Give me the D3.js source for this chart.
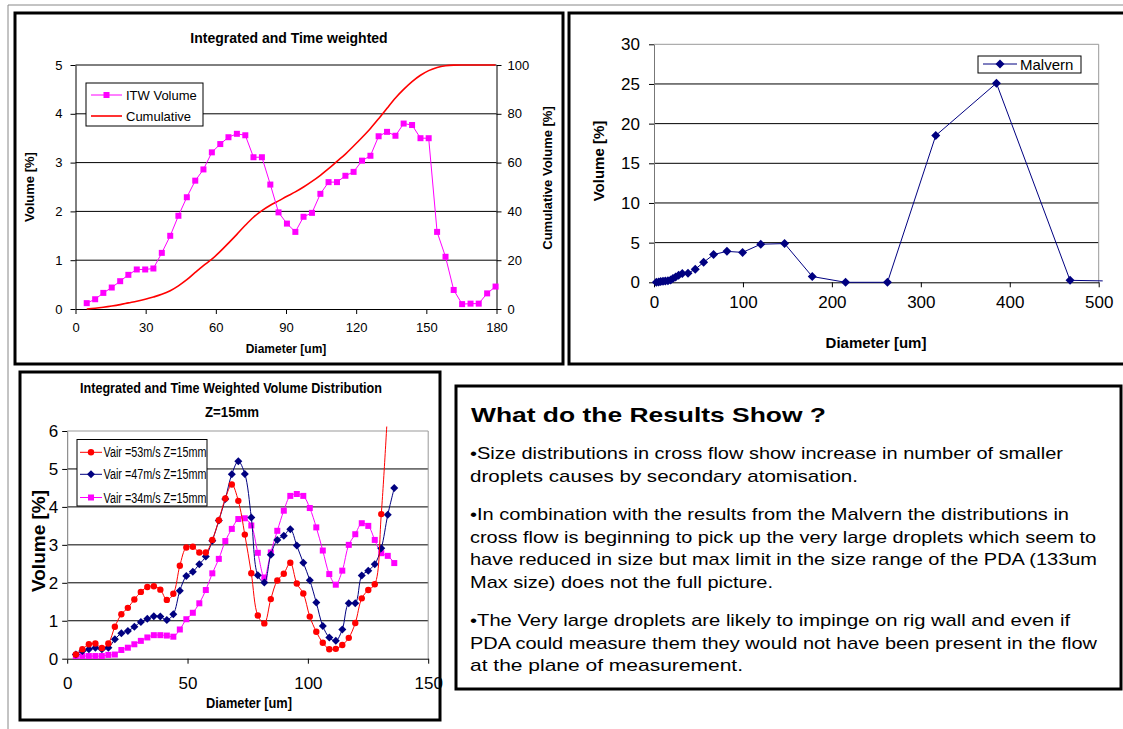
<!DOCTYPE html>
<html>
<head>
<meta charset="utf-8">
<script src="https://cdn.jsdelivr.net/npm/d3@7"></script>
<style>
  html, body { margin: 0; padding: 0; background: #fff; }
  svg { display: block; font-family: "Liberation Sans", Arial, sans-serif; }
</style>
</head>
<body>
<svg id="slide" width="1123" height="729"></svg>
<script>
// ---- Integrated and time weighted PDA distribution ----
const itwDiameter = [4.8, 8.4, 11.9, 15.5, 19.1, 22.6, 26.2, 29.8, 33.3, 36.9,
  40.5, 44.0, 47.6, 51.2, 54.7, 58.3, 61.9, 65.4, 69.0, 72.6,
  76.1, 79.7, 83.3, 86.8, 90.4, 94.0, 97.5, 101.1, 104.7, 108.2,
  111.8, 115.4, 118.9, 122.5, 126.1, 129.6, 133.2, 136.8, 140.3, 143.9,
  147.5, 151.0, 154.6, 158.2, 161.7, 165.3, 168.9, 172.4, 176.0, 179.6];
const itwVolume = [0.12, 0.20, 0.33, 0.44, 0.57, 0.70, 0.81, 0.81, 0.83, 1.15,
  1.50, 1.91, 2.29, 2.63, 2.86, 3.21, 3.38, 3.52, 3.59, 3.56,
  3.11, 3.11, 2.55, 1.98, 1.75, 1.58, 1.89, 1.97, 2.36, 2.60,
  2.60, 2.73, 2.81, 3.04, 3.14, 3.54, 3.63, 3.55, 3.80, 3.77,
  3.50, 3.50, 1.58, 1.07, 0.39, 0.10, 0.11, 0.11, 0.32, 0.46];
const cumulativeVolume = [0, 0.3, 0.7, 1.2, 1.8, 2.5, 3.2, 4.0, 4.9, 6.0,
  7.5, 9.5, 12.0, 15.0, 17.8, 20.4, 23.6, 27.0, 30.6, 34.3,
  37.6, 40.3, 42.5, 44.3, 46.2, 48.0, 50.0, 52.3, 54.8, 57.5,
  60.5, 63.5, 66.8, 70.3, 74.0, 78.0, 82.3, 86.5, 90.0, 93.2,
  95.8, 97.7, 99.0, 99.7, 99.95, 100, 100, 100, 100, 100];
const itwXTicks = [0, 30, 60, 90, 120, 150, 180];
const itwYTicks = [0, 1, 2, 3, 4, 5];
const cumTicks = [0, 20, 40, 60, 80, 100];

// ---- Malvern distribution ----
const malvernSize = [2.6, 5.2, 7.5, 10.1, 12.7, 15.7, 18.7, 21.3, 24.3, 27.7,
  31.8, 38.2, 46.4, 55.8, 67.0, 82.0, 99.6, 120.0, 146.8, 177.9,
  215.4, 262.5, 316.8, 385.0, 467.8, 568.0];
const malvernVolume = [0, 0.04, 0.09, 0.13, 0.17, 0.21, 0.30, 0.47, 0.68, 0.90,
  1.12, 1.15, 1.65, 2.52, 3.50, 3.90, 3.77, 4.80, 4.88, 0.73,
  0.0, 0.0, 18.5, 25.1, 0.25, 0.05];
const malvernXTicks = [0, 100, 200, 300, 400, 500];
const malvernYTicks = [0, 5, 10, 15, 20, 25, 30];

// ---- Cross flow, Z = 15 mm ----
const crossDiameter = [3.6, 6.3, 9.0, 11.7, 14.4, 17.1, 19.8, 22.5, 25.2, 27.9,
  30.6, 33.3, 36.0, 38.7, 41.4, 44.1, 46.8, 49.5, 52.2, 54.9,
  57.6, 60.3, 63.0, 65.7, 68.4, 71.1, 73.8, 76.5, 79.2, 81.9,
  84.6, 87.3, 90.0, 92.7, 95.4, 98.1, 100.8, 103.5, 106.2, 108.9,
  111.6, 114.3, 117.0, 119.7, 122.4, 125.1, 127.8, 130.5, 133.2, 135.9];
const vair53 = [0.11, 0.25, 0.38, 0.40, 0.28, 0.40, 0.84, 1.17, 1.34, 1.56,
  1.76, 1.89, 1.91, 1.82, 1.55, 1.71, 2.45, 2.93, 2.95, 2.80,
  2.80, 3.13, 3.65, 4.22, 4.59, 4.16, 3.27, 2.25, 1.14, 0.93,
  1.57, 2.06, 2.24, 2.53, 1.98, 1.72, 1.11, 0.71, 0.42, 0.25,
  0.26, 0.36, 0.55, 0.94, 1.59, 1.81, 1.96, 3.81, 6.6, null];
const vair47 = [0.11, 0.20, 0.25, 0.29, 0.25, 0.29, 0.51, 0.67, 0.73, 0.84,
  0.97, 1.05, 1.12, 1.11, 1.02, 1.17, 1.79, 2.18, 2.29, 2.49,
  2.69, 3.11, 3.64, 4.21, 4.86, 5.20, 4.87, 3.72, 2.20, 2.01,
  2.74, 3.13, 3.24, 3.41, 2.98, 2.53, 2.07, 1.48, 0.86, 0.56,
  0.47, 0.77, 1.46, 1.46, 2.19, 2.32, 2.49, 2.91, 3.79, 4.50];
const vair34 = [0.07, 0.07, 0.07, 0.07, 0.07, 0.10, 0.11, 0.23, 0.29, 0.38,
  0.47, 0.56, 0.62, 0.62, 0.61, 0.58, 0.77, 1.04, 1.21, 1.46,
  1.81, 2.25, 2.63, 3.10, 3.42, 3.68, 3.70, 3.51, 2.79, 2.14,
  2.80, 3.37, 3.90, 4.29, 4.34, 4.29, 3.97, 3.46, 2.85, 2.23,
  1.95, 2.32, 3.00, 3.28, 3.57, 3.50, 3.13, 2.78, 2.71, 2.52];
const crossNames = ["Vair =53m/s Z=15mm", "Vair =47m/s Z=15mm", "Vair =34m/s Z=15mm"];
const crossXTicks = [0, 50, 100, 150];
const crossYTicks = [0, 1, 2, 3, 4, 5, 6];

// ---- Notes ----
const notesTitle = "What do the Results Show ?";
const notesLines = [
  "\u2022Size distributions in cross flow show increase in number of smaller",
  "droplets causes by secondary atomisation.",
  "\u2022In combination with the results from the Malvern the distributions in",
  "cross flow is beginning to pick up the very large droplets which seem to",
  "have reduced in size but max limit in the size range of the PDA (133um",
  "Max size) does not the full picture.",
  "\u2022The Very large droplets are likely to impinge on rig wall  and even if",
  "PDA could measure them they would not have been present in the flow",
  "at the plane of measurement."
];

const MAGENTA = "#ff00ff", RED = "#ff0000", NAVY = "#000080";
const intFmt = d3.format("d");
const svg = d3.select("#slide");
svg.append("rect").attr("width", 1123).attr("height", 729).attr("fill", "#fff");

// slide edge lines
svg.append("line").attr("x1", 8).attr("x2", 1123).attr("y1", 5).attr("y2", 5)
  .attr("stroke", "#888").attr("stroke-width", 1);
svg.append("line").attr("x1", 8).attr("x2", 8).attr("y1", 5).attr("y2", 729)
  .attr("stroke", "#888").attr("stroke-width", 1);

function frame(x, y, w, h) {
  svg.append("rect").attr("x", x).attr("y", y).attr("width", w).attr("height", h)
    .attr("fill", "#fff").attr("stroke", "#000").attr("stroke-width", 3);
}
function styleAxis(g, size) {
  g.selectAll("text").attr("font-size", size).attr("fill", "#000")
    .attr("font-family", "Liberation Sans, Arial, sans-serif");
  g.selectAll("line").attr("stroke", "#000");
  g.select(".domain").attr("stroke", "#000");
}
function square(g, pts, size, color) {
  g.selectAll(null).data(pts).join("rect")
    .attr("x", d => d[0] - size / 2).attr("y", d => d[1] - size / 2)
    .attr("width", size).attr("height", size).attr("fill", color);
}
function diamond(g, pts, r, color) {
  g.selectAll(null).data(pts).join("path")
    .attr("d", d => `M${d[0]},${d[1] - r}L${d[0] + r},${d[1]}L${d[0]},${d[1] + r}L${d[0] - r},${d[1]}Z`)
    .attr("fill", color);
}
function dots(g, pts, r, color) {
  g.selectAll(null).data(pts).join("circle")
    .attr("cx", d => d[0]).attr("cy", d => d[1]).attr("r", r).attr("fill", color);
}
function vtext(x, y, txt, size, len) {
  const t = svg.append("text").attr("transform", `translate(${x},${y}) rotate(-90)`)
    .attr("text-anchor", "middle").attr("font-weight", "bold").attr("font-size", size).text(txt);
  if (len) t.attr("textLength", len).attr("lengthAdjust", "spacingAndGlyphs");
  return t;
}
function htext(x, y, txt, size, opts = {}) {
  const t = svg.append("text").attr("x", x).attr("y", y)
    .attr("text-anchor", opts.anchor || "middle").attr("font-size", size)
    .attr("font-weight", opts.bold ? "bold" : "normal").text(txt);
  if (opts.len) t.attr("textLength", opts.len).attr("lengthAdjust", "spacingAndGlyphs");
  return t;
}

// ================= Chart 1 =================
frame(15, 13, 548, 351);
{
  const x = d3.scaleLinear().domain([0, 180]).range([75.5, 496.5]);
  const y = d3.scaleLinear().domain([0, 5]).range([309, 65]);
  const yr = d3.scaleLinear().domain([0, 100]).range([309, 65]);
  const g = svg.append("g");
  g.selectAll(null).data(itwYTicks.slice(1)).join("line")
    .attr("x1", x(0)).attr("x2", x(180)).attr("y1", d => y(d)).attr("y2", d => y(d))
    .attr("stroke", "#000").attr("stroke-width", 1);
  const ax = g.append("g").attr("transform", `translate(0,${y(0)})`)
    .call(d3.axisBottom(x).tickValues(itwXTicks).tickFormat(intFmt).tickSize(5).tickPadding(9).tickSizeOuter(0));
  styleAxis(ax, 13);
  const ay = g.append("g").attr("transform", `translate(${x(0)},0)`)
    .call(d3.axisLeft(y).tickValues(itwYTicks).tickFormat(intFmt).tickSize(5).tickPadding(8).tickSizeOuter(0));
  styleAxis(ay, 13);
  const ar = g.append("g").attr("transform", `translate(${x(180)},0)`)
    .call(d3.axisRight(yr).tickValues(cumTicks).tickFormat(intFmt).tickSize(5).tickPadding(6).tickSizeOuter(0));
  styleAxis(ar, 13);

  const cum = itwDiameter.map((d, i) => [x(d), yr(cumulativeVolume[i])]);
  g.append("path").attr("d", d3.line().curve(d3.curveMonotoneX)(cum))
    .attr("fill", "none").attr("stroke", RED).attr("stroke-width", 1.6);
  const itw = itwDiameter.map((d, i) => [x(d), y(itwVolume[i])]);
  g.append("path").attr("d", d3.line()(itw))
    .attr("fill", "none").attr("stroke", MAGENTA).attr("stroke-width", 1);
  square(g, itw, 6, MAGENTA);

  htext(289, 43, "Integrated and Time weighted", 14, { bold: true });
  htext(286, 353, "Diameter [um]", 12, { bold: true });
  vtext(34, 187, "Volume [%]", 13);
  vtext(552, 178, "Cumulative Volume [%]", 13);

  // legend
  const lg = svg.append("g");
  lg.append("rect").attr("x", 86).attr("y", 83).attr("width", 117).attr("height", 43)
    .attr("fill", "#fff").attr("stroke", "#000").attr("stroke-width", 1);
  lg.append("line").attr("x1", 91).attr("x2", 122).attr("y1", 95).attr("y2", 95)
    .attr("stroke", MAGENTA).attr("stroke-width", 1);
  square(lg, [[106.5, 95]], 6, MAGENTA);
  lg.append("text").attr("x", 126).attr("y", 99.5).attr("font-size", 13).text("ITW Volume");
  lg.append("line").attr("x1", 91).attr("x2", 122).attr("y1", 116).attr("y2", 116)
    .attr("stroke", RED).attr("stroke-width", 1.6);
  lg.append("text").attr("x", 126).attr("y", 120.5).attr("font-size", 13).text("Cumulative");
}

// ================= Chart 2 =================
frame(569, 13, 560, 351);
{
  const x = d3.scaleLinear().domain([0, 500]).range([654, 1098.7]);
  const y = d3.scaleLinear().domain([0, 30]).range([282.3, 44.3]);
  const g = svg.append("g");
  g.selectAll(null).data(malvernYTicks.slice(1, -1)).join("line")
    .attr("x1", x(0)).attr("x2", x(500)).attr("y1", d => y(d)).attr("y2", d => y(d))
    .attr("stroke", "#000").attr("stroke-width", 1);
  // plot area border (top and right)
  g.append("path").attr("d", `M${x(0)},${y(30)}H${x(500)}V${y(0)}`)
    .attr("fill", "none").attr("stroke", "#999").attr("stroke-width", 1);
  const ax = g.append("g").attr("transform", `translate(0,${y(0)})`)
    .call(d3.axisBottom(x).tickValues(malvernXTicks).tickFormat(intFmt).tickSize(5).tickPadding(9).tickSizeOuter(0));
  styleAxis(ax, 17);
  const ay = g.append("g").attr("transform", `translate(${x(0)},0)`)
    .call(d3.axisLeft(y).tickValues(malvernYTicks).tickFormat(intFmt).tickSize(5).tickPadding(9).tickSizeOuter(0));
  styleAxis(ay, 17);
  ay.select(".domain").attr("stroke", "#777");

  const clipId = "clipMalvern";
  svg.append("clipPath").attr("id", clipId).append("rect")
    .attr("x", x(0) - 6).attr("y", y(30) - 6).attr("width", x(500) - x(0) + 10).attr("height", y(0) - y(30) + 12);
  const s = g.append("g").attr("clip-path", `url(#${clipId})`);
  const pts = malvernSize.map((d, i) => [x(d), y(malvernVolume[i])]);
  s.append("path").attr("d", d3.line()(pts)).attr("fill", "none").attr("stroke", NAVY).attr("stroke-width", 1);
  diamond(s, pts.filter(p => p[0] <= x(500)), 4.5, NAVY);

  vtext(604, 161, "Volume [%]", 15);
  htext(876, 348, "Diameter [um]", 15, { bold: true });

  const lg = svg.append("g");
  lg.append("rect").attr("x", 978).attr("y", 56).attr("width", 103).attr("height", 17)
    .attr("fill", "#fff").attr("stroke", "#000").attr("stroke-width", 1);
  lg.append("line").attr("x1", 983).attr("x2", 1017).attr("y1", 64).attr("y2", 64)
    .attr("stroke", NAVY).attr("stroke-width", 1);
  diamond(lg, [[1000, 64]], 4.5, NAVY);
  lg.append("text").attr("x", 1020).attr("y", 69.5).attr("font-size", 15).text("Malvern");
}

// ================= Chart 3 =================
frame(20, 372, 420, 348);
{
  const x = d3.scaleLinear().domain([0, 150]).range([67.2, 428.2]);
  const y = d3.scaleLinear().domain([0, 6]).range([658.7, 431]);
  const g = svg.append("g");
  g.selectAll(null).data(crossYTicks.slice(1, -1)).join("line")
    .attr("x1", x(0)).attr("x2", x(150)).attr("y1", d => y(d)).attr("y2", d => y(d))
    .attr("stroke", "#000").attr("stroke-width", 1);
  g.append("path").attr("d", `M${x(0)},${y(6)}H${x(150)}V${y(0)}`)
    .attr("fill", "none").attr("stroke", "#999").attr("stroke-width", 1);
  const ax = g.append("g").attr("transform", `translate(0,${y(0)})`)
    .call(d3.axisBottom(x).tickValues(crossXTicks).tickFormat(intFmt).tickSize(5).tickPadding(13).tickSizeOuter(0));
  styleAxis(ax, 17);
  const ay = g.append("g").attr("transform", `translate(${x(0)},0)`)
    .call(d3.axisLeft(y).tickValues(crossYTicks).tickFormat(intFmt).tickSize(5).tickPadding(4).tickSizeOuter(0));
  styleAxis(ay, 17);
  ay.select(".domain").attr("stroke", "#777");

  svg.append("clipPath").attr("id", "clipCross").append("rect")
    .attr("x", x(0) - 6).attr("y", y(6) - 4.5).attr("width", x(150) - x(0) + 6).attr("height", y(0) - y(6) + 12);
  const s = g.append("g").attr("clip-path", "url(#clipCross)");
  const line = d3.line().defined(d => d[1] != null).curve(d3.curveCatmullRom.alpha(0.5))
    .x(d => x(d[0])).y(d => y(d[1]));
  const series = [
    { vals: vair34, color: MAGENTA, mark: "square" },
    { vals: vair47, color: NAVY, mark: "diamond" },
    { vals: vair53, color: RED, mark: "dot" }
  ];
  series.forEach(sr => {
    const data = crossDiameter.map((d, i) => [d, sr.vals[i]]);
    s.append("path").attr("d", line(data)).attr("fill", "none")
      .attr("stroke", sr.color).attr("stroke-width", 1);
    const pts = data.filter(d => d[1] != null && d[1] <= 6).map(d => [x(d[0]), y(d[1])]);
    if (sr.mark === "square") square(s, pts, 6, sr.color);
    else if (sr.mark === "diamond") diamond(s, pts, 4, sr.color);
    else dots(s, pts, 3.2, sr.color);
  });

  htext(80, 393, "Integrated and Time Weighted Volume Distribution", 14, { bold: true, anchor: "start", len: 302 });
  htext(232, 417, "Z=15mm", 14, { bold: true, len: 54 });
  htext(249, 708, "Diameter [um]", 15, { bold: true, len: 86 });
  vtext(45, 541, "Volume [%]", 19);

  const lg = svg.append("g");
  lg.append("rect").attr("x", 77).attr("y", 439.5).attr("width", 130).attr("height", 66.5)
    .attr("fill", "#fff").attr("stroke", "#000").attr("stroke-width", 1);
  const rows = [
    { y: 452.3, color: RED, mark: "dot" },
    { y: 474.3, color: NAVY, mark: "diamond" },
    { y: 497.5, color: MAGENTA, mark: "square" }
  ];
  rows.forEach((r, i) => {
    lg.append("line").attr("x1", 80).attr("x2", 102).attr("y1", r.y).attr("y2", r.y)
      .attr("stroke", r.color).attr("stroke-width", 1);
    if (r.mark === "dot") dots(lg, [[91, r.y]], 3.2, r.color);
    else if (r.mark === "diamond") diamond(lg, [[91, r.y]], 4, r.color);
    else square(lg, [[91, r.y]], 6, r.color);
    lg.append("text").attr("x", 103.5).attr("y", r.y + 5).attr("font-size", 14)
      .attr("textLength", 103).attr("lengthAdjust", "spacingAndGlyphs").text(crossNames[i]);
  });
}

// ================= Notes box =================
frame(456, 386, 665, 303);
{
  htext(471, 422, notesTitle, 21, { bold: true, anchor: "start", len: 355 });
  const baselines = [459, 482, 520, 543, 565, 588, 626, 649, 671];
  const widths = [593, 388, 599, 626, 627, 303, 600, 627, 273];
  notesLines.forEach((t, i) => {
    htext(470, baselines[i], t, 17, { anchor: "start", len: widths[i] });
  });
}
</script>
</body>
</html>
